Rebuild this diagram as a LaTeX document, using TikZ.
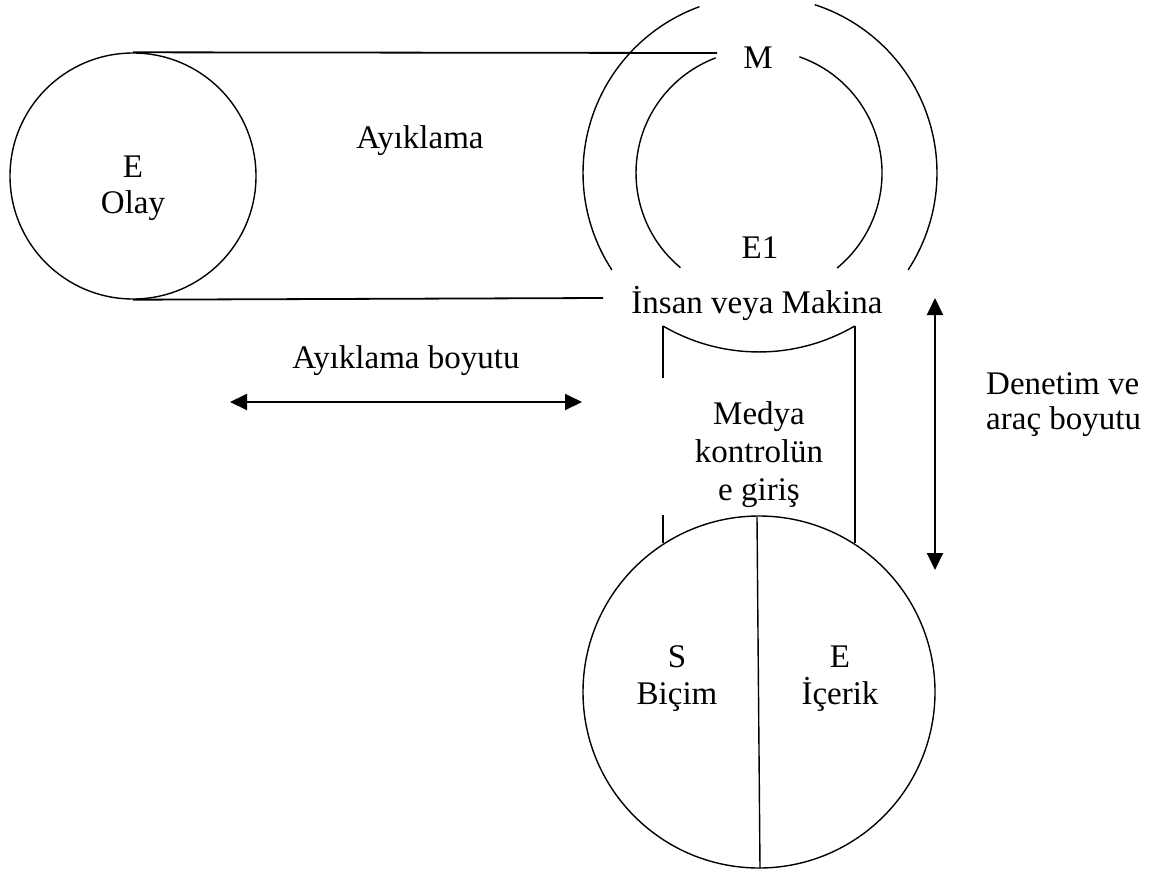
\documentclass[tikz,border=0pt]{standalone}
\usepackage{fontspec}
\setmainfont{Liberation Serif}
\usetikzlibrary{arrows.meta}

\begin{document}
\begin{tikzpicture}[x=1pt,y=-1pt,
  ring/.style={line width=1.4pt},
  rule/.style={line width=1.8pt},
  dimarrow/.style={line width=2pt,{Triangle[length=17pt,width=16pt]}-{Triangle[length=17pt,width=16pt]}},
  lbl/.style={font=\fontsize{33}{38}\selectfont,inner sep=0pt,anchor=base},
  lblw/.style={lbl,anchor=base west},
  disc/.style={ring,draw,circle,inner sep=0pt}]

% page frame
\fill[white] (0,0) rectangle (1149,868);
\useasboundingbox (0,0) rectangle (1149,868);

% event circle with its tangent lines
\node[disc,minimum size=246pt] (event) at (133,176) {};
\coordinate (topend) at (717,53);
\coordinate (botend) at (603,298);
\draw[rule] (event.north) -- (topend);
\draw[rule] (event.south) -- (botend);

% outer and inner rings of the selector
\coordinate (hub) at (760,173);
\coordinate (core) at (759,173);
\draw[ring] (hub) ++(146.8:177) arc[start angle=146.8,end angle=250,radius=177];
\draw[ring] (hub) ++(-72:177) arc[start angle=-72,end angle=33.2,radius=177];
\draw[ring] (core) ++(129.7:123) arc[start angle=129.7,end angle=249.4,radius=123];
\draw[ring] (core) ++(-70.8:123) arc[start angle=-70.8,end angle=50.6,radius=123];

% media circle split in two halves
\node[disc,minimum size=352pt] (media) at (759,692) {};
\coordinate (splittop) at (757,517);
\coordinate (splitbot) at (760,868);
\draw[ring] (splittop) -- (splitbot);

% channel between the rings and the media circle
\coordinate (chl) at (663,326);
\coordinate (chr) at (855,326);
\coordinate (chlgap1) at (663,378);
\coordinate (chlgap2) at (663,515);
\coordinate (chlfoot) at (663,543);
\coordinate (chrfoot) at (855,543);
\draw[ring] (chl) arc[start angle=120.3,end angle=59.7,radius=190];
\draw[ring] (chl) -- (chlgap1);
\draw[ring] (chlgap2) -- (chlfoot);
\draw[ring] (chr) -- (chrfoot);

% dimension arrows
\coordinate (ha) at (230,402);
\coordinate (hb) at (582,402);
\draw[dimarrow] (ha) -- (hb);
\coordinate (va) at (935,298);
\coordinate (vb) at (935,570);
\draw[dimarrow] (va) -- (vb);

% labels
\node[lbl] (eE) at (133,177) {E};
\node[lbl] (eOlay) at (133,213) {Olay};
\node[lbl] (ayik) at (420,148) {Ayıklama};
\node[lbl] (mM) at (758,68) {M};
\node[lbl] (eone) at (760,258) {E1};
\node[lbl] (insan) at (757,313) {İnsan veya Makina};
\node[lbl] (ayikb) at (406,368) {Ayıklama boyutu};
\node[lbl] (medya1) at (759,424) {Medya};
\node[lbl] (medya2) at (759,462) {kontrolün};
\node[lbl] (medya3) at (759,500) {e giriş};
\node[lblw] (den1) at (986,394) {Denetim ve};
\node[lblw] (den2) at (986,429) {araç boyutu};
\node[lbl] (sS) at (677,667) {S};
\node[lbl] (sBicim) at (677,704) {Biçim};
\node[lbl] (cE) at (840,667) {E};
\node[lbl] (cIcerik) at (840,704) {İçerik};
\end{tikzpicture}
\end{document}
